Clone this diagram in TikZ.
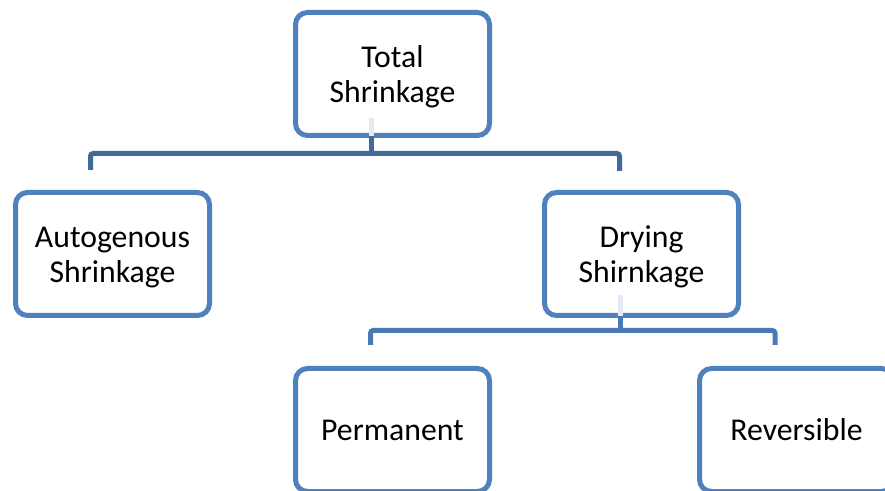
\documentclass[tikz,border=0pt]{standalone}
\usepackage{fontspec}
\setmainfont{Carlito}
\definecolor{boxblue}{HTML}{4F81BD}
\definecolor{topline}{HTML}{41699C}
\definecolor{botline}{HTML}{4A7AB6}
\definecolor{paleline}{HTML}{E3EAF3}
\newcommand{\lowstrut}{\rule{0pt}{21pt}}
\begin{document}
\begin{tikzpicture}[x=0.75pt,y=-0.75pt,
  box/.style={draw=boxblue, line width=3.75pt, rounded corners=9pt, fill=white,
    minimum width=145.5pt, minimum height=92.25pt, align=center, inner sep=0pt,
    font=\fontsize{23.8}{26.25}\selectfont},
  conn/.style={line width=3.75pt, rounded corners=2pt},
  stub/.style={line width=3.75pt, paleline}]
\fill[white] (0,0) rectangle (885,491);
\useasboundingbox (0,0) rectangle (885,491);
\clip (0,0) rectangle (885,491);
% nodes
\node[box] (total) at (392.5,74) {\lowstrut Total\\Shrinkage};
\node[box] (auto) at (112.5,254) {\lowstrut Autogenous\\Shrinkage};
\node[box] (dry) at (641.5,254) {\lowstrut Drying\\Shirnkage};
\node[box] (perm) at (392.5,430) {Permanent};
\node[box] (rev) at (796.5,430) {Reversible};
% top connector
\coordinate (ts) at (371,118);
\coordinate (tb) at (371,136);
\coordinate (tj) at (371,153.5);
\coordinate (tl) at (90.5,153.5);
\coordinate (tr) at (619.5,153.5);
\coordinate (tld) at (90.5,170);
\coordinate (trd) at (619.5,171);
\draw[stub] (ts) -- (tb);
\draw[conn, topline] (tb) -- (tj);
\draw[conn, topline] (tld) -- (tl) -- (tr) -- (trd);
% bottom connector
\coordinate (ds) at (620,295);
\coordinate (db) at (620,316);
\coordinate (dj) at (620,330.5);
\coordinate (dl) at (370.5,330.5);
\coordinate (dr) at (775,330.5);
\coordinate (dld) at (370.5,345);
\coordinate (drd) at (775,345);
\draw[stub] (ds) -- (db);
\draw[conn, botline] (db) -- (dj);
\draw[conn, botline] (dld) -- (dl) -- (dr) -- (drd);
\end{tikzpicture}
\end{document}
